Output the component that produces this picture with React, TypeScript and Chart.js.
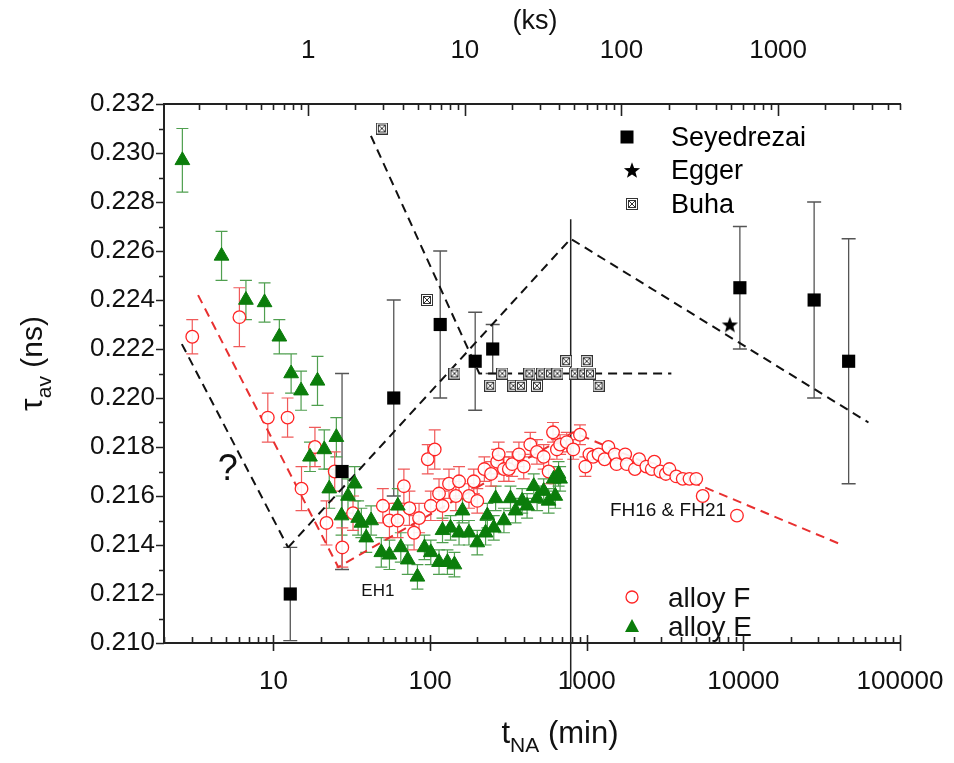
import React, { useEffect, useRef } from 'react';
import { Chart, registerables } from 'chart.js';

Chart.register(...registerables);

// ---------- axis ranges & tick labels ----------
const X_MIN = 2;
const X_MAX = 100000;
const KS_PER_MIN = 0.06;
const Y_MIN = 0.21;
const Y_MAX = 0.232;
const bottomTickLabels = [10, 100, 1000, 10000, 100000];
const topTickLabels = [1, 10, 100, 1000];
const yTickLabels = [0.21, 0.212, 0.214, 0.216, 0.218, 0.22, 0.222, 0.224, 0.226, 0.228, 0.23, 0.232];

// ---------- Seyedrezai ----------
const seyX = [12.8, 27.4, 58.6, 116, 194, 251, 9500, 28300, 47000];
const seyY = [0.212, 0.217, 0.22, 0.223, 0.2215, 0.222, 0.2245, 0.224, 0.2215];
const seyErr = [0.0019, 0.004, 0.004, 0.003, 0.002, 0.001, 0.0025, 0.004, 0.005];

// ---------- Egger ----------
const eggerX = [8200];
const eggerY = [0.223];

// ---------- Buha ----------
const buhaX = [49.2, 95.5, 143, 242, 289, 340, 380, 430, 481, 520, 582, 650, 739, 839, 950, 1000, 1050, 1190];
const buhaY = [0.231, 0.224, 0.221, 0.2205, 0.221, 0.2205, 0.2205, 0.221, 0.2205, 0.221, 0.221, 0.221, 0.2215, 0.221, 0.221, 0.2215, 0.221, 0.2205];

// ---------- alloy F ----------
const alloyFX = [3.03, 6.06, 9.2, 12.3, 15.1, 18.4, 21.8, 24.6, 27.5, 32.2, 49.9, 55, 62, 68, 73.8, 79, 85, 96.6, 107, 101,
  114, 120, 132, 146, 153, 177, 190, 200, 222, 245, 268, 274, 296, 318, 334, 369, 396, 436, 481, 531,
  571, 609, 645, 676, 745, 820, 905, 980, 1040, 1100, 1190, 1300, 1375, 1510, 1550, 1760, 1800, 2030, 2160, 2400,
  2600, 2700, 2950, 3200, 3370, 3730, 4100, 4530, 5000, 5500, 9100];
const alloyFY = [0.2225, 0.2233, 0.2192, 0.2192, 0.2163, 0.218, 0.2149, 0.217, 0.2139, 0.2153, 0.2156, 0.215, 0.215, 0.2164, 0.2155, 0.2145, 0.2151, 0.2175, 0.2179, 0.2156,
  0.2161, 0.2156, 0.2165, 0.216, 0.2166, 0.216, 0.2166, 0.2158, 0.2171, 0.2169, 0.2174, 0.2177, 0.2171, 0.2171, 0.2173, 0.2177, 0.2172, 0.2181, 0.2178, 0.2176,
  0.217, 0.2186, 0.2179, 0.2181, 0.2182, 0.2179, 0.2185, 0.2172, 0.2177, 0.2176, 0.2177, 0.2175, 0.218, 0.2177, 0.2173, 0.2177, 0.2173, 0.2171, 0.2175, 0.2172,
  0.2171, 0.2174, 0.217, 0.2169, 0.2171, 0.2168, 0.2167, 0.2167, 0.2167, 0.216, 0.2152];
const alloyFErr = [0.0007, 0.0012, 0.001, 0.0008, 0.0009, 0.0008, 0.0009, 0.0008, 0.0008, 0.0007, 0.0007, 0.0007, 0.0007, 0.0007, 0.0007, 0.0007, 0.0006, 0.0006, 0.0008, 0.0006,
  0.0006, 0.0006, 0.0006, 0.0006, 0.0006, 0.0005, 0.0005, 0.0005, 0.0005, 0.0005, 0.0005, 0.0005, 0.0005, 0.0005, 0.0005, 0.0005, 0.0005, 0.0005, 0.0005, 0.0005,
  0.0005, 0.0004, 0.0004, 0.0004, 0.0004, 0.0004, 0.0004, 0.0004, 0, 0, 0, 0, 0, 0, 0, 0, 0, 0, 0, 0,
  0, 0, 0, 0, 0, 0, 0, 0, 0, 0, 0];

// ---------- alloy E ----------
const alloyEX = [2.62, 4.66, 6.67, 8.77, 10.9, 12.96, 15.0, 19.1, 17.1, 21.1, 25.2, 22.7, 33.0, 29.9, 27.2, 34.7, 36.4, 42, 39.1, 48.8,
  55, 62.2, 65, 72, 83, 92, 101, 114, 129, 143, 120, 135, 161, 153, 177, 200, 226, 232, 255, 262,
  296, 326, 351, 387, 416, 459, 482, 531, 571, 615, 630, 661, 676];
const alloyEY = [0.2297, 0.2258, 0.224, 0.2239, 0.2225, 0.221, 0.2203, 0.2207, 0.2176, 0.2179, 0.2184, 0.2163, 0.2165, 0.216, 0.2152, 0.2151, 0.2149, 0.215, 0.2143, 0.2137,
  0.2136, 0.2156, 0.2139, 0.2134, 0.2127, 0.2139, 0.2137, 0.2133, 0.2133, 0.2132, 0.2146, 0.2147, 0.2154, 0.2145, 0.2145, 0.2141, 0.2145, 0.2152, 0.2147, 0.2159,
  0.215, 0.2159, 0.2154, 0.2158, 0.2156, 0.2164, 0.2159, 0.2162, 0.2158, 0.2167, 0.216, 0.2169, 0.2167];
const alloyEErr = [0.0013, 0.001, 0.0008, 0.0008, 0.0007, 0.0008, 0.0008, 0.001, 0.0006, 0.0008, 0.0008, 0.0008, 0.0007, 0.0007, 0.0008, 0.0007, 0.0006, 0.0006, 0.0006, 0.0006,
  0.0006, 0.0007, 0.0006, 0.0006, 0.0005, 0.0005, 0.0005, 0.0005, 0.0005, 0.0005, 0.0005, 0.0005, 0.0005, 0.0005, 0.0005, 0.0005, 0.0005, 0.0005, 0.0005, 0.0005,
  0.0005, 0.0005, 0.0005, 0.0005, 0.0005, 0.0005, 0.0005, 0.0005, 0.0005, 0.0005, 0.0005, 0.0005, 0.0005];

// ---------- guide lines ----------
const guideQX = [2.6, 12.4];
const guideQY = [0.2222, 0.2139];
const guideVX = [12.4, 790, 62900];
const guideVY = [0.2139, 0.2265, 0.219];
const guideBuhaX = [41.9, 206, 3470];
const guideBuhaY = [0.2307, 0.221, 0.221];
const guideRedX = [3.3, 25.9, 820, 42800];
const guideRedY = [0.2242, 0.2131, 0.2186, 0.214];
const markerLineX = [790, 790];
const markerLineY = [0.2273, 0.2082];

// ---------- annotations ----------
const annotations = [
  { text: '?', x: 5.1, y: 0.21705, size: 36 },
  { text: 'EH1', x: 46.4, y: 0.2121, size: 17 },
  { text: 'FH16 & FH21', x: 3300, y: 0.2154, size: 19 },
];

const FONT = "'Liberation Sans', Arial, Helvetica, sans-serif";
const RED = '#ff2424';
const RED_BAR = '#f05a5a';
const GREEN = '#0b7d0b';
const GREEN_BAR = '#4f9f4f';

const pts = (xs: number[], ys: number[]) => xs.map((x, i) => ({ x, y: ys[i] }));

function makeStar(): HTMLCanvasElement {
  const c = document.createElement('canvas');
  c.width = 18; c.height = 18;
  const g = c.getContext('2d')!;
  g.fillStyle = '#000';
  g.beginPath();
  for (let i = 0; i < 10; i++) {
    const r = i % 2 === 0 ? 8.5 : 3.6;
    const a = -Math.PI / 2 + (i * Math.PI) / 5;
    const px = 9 + r * Math.cos(a);
    const py = 9.8 + r * Math.sin(a);
    if (i === 0) g.moveTo(px, py); else g.lineTo(px, py);
  }
  g.closePath();
  g.fill();
  return c;
}

function makeBoxX(): HTMLCanvasElement {
  const c = document.createElement('canvas');
  c.width = 12; c.height = 12;
  const g = c.getContext('2d')!;
  g.fillStyle = '#fff';
  g.fillRect(0, 0, 12, 12);
  g.strokeStyle = '#333';
  g.lineWidth = 1;
  g.strokeRect(0.5, 0.5, 11, 11);
  g.strokeRect(2.5, 2.5, 7, 7);
  g.beginPath();
  g.moveTo(2.5, 2.5); g.lineTo(9.5, 9.5);
  g.moveTo(9.5, 2.5); g.lineTo(2.5, 9.5);
  g.stroke();
  return c;
}

const errorBarPlugin = {
  id: 'errorBars',
  beforeDatasetsDraw(chart: any) {
    const { ctx } = chart;
    const xs = chart.scales.x;
    const ys = chart.scales.y;
    chart.data.datasets.forEach((ds: any) => {
      if (!ds.errors) return;
      ctx.save();
      ctx.strokeStyle = ds.errorColor;
      ctx.lineWidth = ds.errorWidth || 1.2;
      ds.data.forEach((p: any, j: number) => {
        const e = ds.errors[j];
        if (!e) return;
        const px = xs.getPixelForValue(p.x);
        const yTop = ys.getPixelForValue(p.y + e);
        const yBot = ys.getPixelForValue(Math.max(p.y - e, Y_MIN));
        const c = ds.capHalf;
        ctx.beginPath();
        ctx.moveTo(px, yTop); ctx.lineTo(px, yBot);
        ctx.moveTo(px - c, yTop); ctx.lineTo(px + c, yTop);
        if (p.y - e > Y_MIN) { ctx.moveTo(px - c, yBot); ctx.lineTo(px + c, yBot); }
        ctx.stroke();
      });
      ctx.restore();
    });
  },
};

function decadeValues(min: number, max: number) {
  const out: { v: number; major: boolean }[] = [];
  const d0 = Math.floor(Math.log10(min));
  const d1 = Math.ceil(Math.log10(max));
  for (let d = d0; d <= d1; d++) {
    for (let m = 1; m <= 9; m++) {
      const v = m * Math.pow(10, d);
      if (v >= min * 0.9999 && v <= max * 1.0001) out.push({ v, major: m === 1 });
    }
  }
  return out;
}

const tickMarksPlugin = {
  id: 'tickMarks',
  afterDraw(chart: any) {
    const { ctx, chartArea: a } = chart;
    const xs = chart.scales.x;
    const x2 = chart.scales.x2;
    const ys = chart.scales.y;
    ctx.save();
    ctx.strokeStyle = '#222';
    ctx.lineWidth = 1.6;
    ctx.beginPath();
    decadeValues(X_MIN, X_MAX).forEach(({ v, major }) => {
      const px = Math.round(xs.getPixelForValue(v)) + 0.5;
      if (major) { ctx.moveTo(px, a.bottom - 8); ctx.lineTo(px, a.bottom + 8); }
      else { ctx.moveTo(px, a.bottom); ctx.lineTo(px, a.bottom - 6); }
    });
    decadeValues(X_MIN * KS_PER_MIN, X_MAX * KS_PER_MIN).forEach(({ v, major }) => {
      const px = Math.round(x2.getPixelForValue(v)) + 0.5;
      ctx.moveTo(px, a.top); ctx.lineTo(px, a.top + (major ? 12 : 6));
    });
    for (let k = 0; k <= 22; k++) {
      const v = Y_MIN + k * 0.001;
      const py = Math.round(ys.getPixelForValue(v)) + 0.5;
      ctx.moveTo(a.left, py); ctx.lineTo(a.left - (k % 2 === 0 ? 8 : 5), py);
    }
    ctx.stroke();
    ctx.restore();
  },
};

function drawParts(ctx: CanvasRenderingContext2D, parts: [string, number, number][], cx: number, cy: number) {
  let total = 0;
  const widths = parts.map(([t, s]) => { ctx.font = `${s}px ${FONT}`; const w = ctx.measureText(t).width; total += w; return w; });
  let x = cx - total / 2;
  ctx.textAlign = 'left';
  ctx.textBaseline = 'alphabetic';
  parts.forEach(([t, s, dy], i) => {
    ctx.font = `${s}px ${FONT}`;
    ctx.fillText(t, x, cy + dy);
    x += widths[i];
  });
}

function makeOverlayPlugin(star: HTMLCanvasElement, boxX: HTMLCanvasElement) {
  return {
    id: 'overlay',
    afterDraw(chart: any) {
      const { ctx, chartArea: a } = chart;
      const xs = chart.scales.x;
      const ys = chart.scales.y;
      ctx.save();
      ctx.fillStyle = '#111';
      // axis titles
      ctx.font = `27px ${FONT}`;
      ctx.textAlign = 'center';
      ctx.textBaseline = 'middle';
      ctx.fillText('(ks)', 535, 22);
      drawParts(ctx, [['t', 31, 0], ['NA', 21, 9], [' (min)', 31, 0]], 560, 743);
      ctx.save();
      ctx.translate(42, (a.top + a.bottom) / 2 - 10);
      ctx.rotate(-Math.PI / 2);
      drawParts(ctx, [['τ', 32, 0], ['av', 21, 9], [' (ns)', 30, 0]], 0, 0);
      ctx.restore();

      // annotations
      annotations.forEach((an) => {
        ctx.font = `${an.size}px ${FONT}`;
        ctx.textAlign = 'center';
        ctx.textBaseline = 'middle';
        ctx.fillText(an.text, xs.getPixelForValue(an.x), ys.getPixelForValue(an.y));
      });

      // legends
      ctx.textAlign = 'left';
      ctx.textBaseline = 'middle';
      const lx = 627;
      const tx = 671;
      ctx.font = `27px ${FONT}`;
      ctx.fillStyle = '#000';
      ctx.fillRect(lx - 6.5, 137 - 6.5, 13, 13);
      ctx.fillText('Seyedrezai', tx, 139);
      ctx.drawImage(star, lx - 9 + 5, 170 - 9);
      ctx.fillText('Egger', tx, 172);
      ctx.drawImage(boxX, lx - 6 + 5, 204 - 6);
      ctx.fillText('Buha', tx, 206);
      // alloy F / E
      ctx.font = `28px ${FONT}`;
      ctx.strokeStyle = RED;
      ctx.lineWidth = 1.3;
      ctx.beginPath();
      ctx.arc(lx + 5, 597, 6, 0, Math.PI * 2);
      ctx.stroke();
      ctx.fillStyle = '#111';
      ctx.fillText('alloy F', 668, 599);
      ctx.fillStyle = GREEN;
      ctx.beginPath();
      ctx.moveTo(lx + 5, 619); ctx.lineTo(lx + 12, 632); ctx.lineTo(lx - 2, 632); ctx.closePath();
      ctx.fill();
      ctx.fillStyle = '#111';
      ctx.fillText('alloy E', 668, 628);
      ctx.restore();
    },
  };
}

const zeroPad = (s: any) => { s.paddingLeft = 0; s.paddingRight = 0; s.paddingTop = 0; s.paddingBottom = 0; };

export default function App() {
  const ref = useRef<HTMLCanvasElement | null>(null);

  useEffect(() => {
    document.body.style.margin = '0';
    const canvas = ref.current;
    if (!canvas) return;
    const star = makeStar();
    const boxX = makeBoxX();

    const dashLine = (xs: number[], ys: number[], color: string, extra: any = {}) => ({
      data: pts(xs, ys),
      showLine: true,
      pointRadius: 0,
      borderColor: color,
      borderWidth: 2,
      borderDash: [9, 6],
      backgroundColor: color,
      ...extra,
    });

    const chart = new Chart(canvas, {
      type: 'scatter',
      data: {
        datasets: [
          {
            label: 'Seyedrezai', data: pts(seyX, seyY), pointStyle: 'rect', pointRadius: 9.3,
            backgroundColor: '#000', borderColor: '#000', borderWidth: 0,
            errors: seyErr, errorColor: '#555', capHalf: 7, errorWidth: 1.3,
          } as any,
          { label: 'Egger', data: pts(eggerX, eggerY), pointStyle: star, pointRadius: 9 } as any,
          { label: 'Buha', data: pts(buhaX, buhaY), pointStyle: boxX, pointRadius: 6 } as any,
          {
            label: 'alloy E', data: pts(alloyEX, alloyEY), pointStyle: 'triangle', pointRadius: 8.5,
            backgroundColor: GREEN, borderColor: GREEN, borderWidth: 1,
            errors: alloyEErr, errorColor: GREEN_BAR, capHalf: 6,
          } as any,
          {
            label: 'alloy F', data: pts(alloyFX, alloyFY), pointStyle: 'circle', pointRadius: 6.3,
            backgroundColor: 'rgba(255,255,255,0.9)', borderColor: RED, borderWidth: 1.3,
            errors: alloyFErr, errorColor: RED_BAR, capHalf: 6,
          } as any,
          dashLine(guideQX, guideQY, '#111') as any,
          dashLine(guideVX, guideVY, '#111') as any,
          dashLine(guideBuhaX, guideBuhaY, '#111') as any,
          dashLine(guideRedX, guideRedY, '#e83030') as any,
          { data: pts(markerLineX, markerLineY), showLine: true, pointRadius: 0, borderColor: '#222', borderWidth: 1.5, clip: false } as any,
        ],
      },
      options: {
        responsive: false,
        animation: false,
        devicePixelRatio: 1,
        events: [],
        layout: { padding: { left: 0, right: 54, top: 0, bottom: 0 } },
        plugins: { legend: { display: false }, tooltip: { enabled: false } },
        scales: {
          x: {
            type: 'logarithmic', position: 'bottom', min: X_MIN, max: X_MAX,
            afterBuildTicks: (s: any) => { s.ticks = bottomTickLabels.map((v) => ({ value: v })); },
            afterFit: (s: any) => { s.height = 120; zeroPad(s); },
            grid: { display: false, drawTicks: false },
            border: { display: true, color: '#222', width: 2 },
            ticks: {
              callback: (v: any) => String(v), font: { size: 26, family: FONT }, color: '#111',
              padding: 23, maxRotation: 0, autoSkip: false,
            },
          },
          x2: {
            type: 'logarithmic', position: 'top', min: X_MIN * KS_PER_MIN, max: X_MAX * KS_PER_MIN,
            afterBuildTicks: (s: any) => { s.ticks = topTickLabels.map((v) => ({ value: v })); },
            afterFit: (s: any) => { s.height = 104; zeroPad(s); },
            grid: { display: false, drawTicks: false },
            border: { display: true, color: '#222', width: 2 },
            ticks: {
              callback: (v: any) => String(v), font: { size: 26, family: FONT }, color: '#111',
              padding: 38, maxRotation: 0, autoSkip: false,
            },
          },
          y: {
            type: 'linear', min: Y_MIN, max: Y_MAX,
            afterBuildTicks: (s: any) => { s.ticks = yTickLabels.map((v) => ({ value: v })); },
            afterFit: (s: any) => { s.width = 164; zeroPad(s); },
            grid: { display: false, drawTicks: false },
            border: { display: true, color: '#222', width: 2 },
            ticks: {
              callback: (v: any) => Number(v).toFixed(3), font: { size: 26, family: FONT }, color: '#111',
              padding: 9,
            },
          },
        },
      } as any,
      plugins: [errorBarPlugin, tickMarksPlugin, makeOverlayPlugin(star, boxX)],
    });
    return () => chart.destroy();
  }, []);

  return (
    <div style={{ width: 954, height: 763, background: '#fff' }}>
      <canvas ref={ref} width={954} height={763} style={{ display: 'block', width: 954, height: 763 }} />
    </div>
  );
}
